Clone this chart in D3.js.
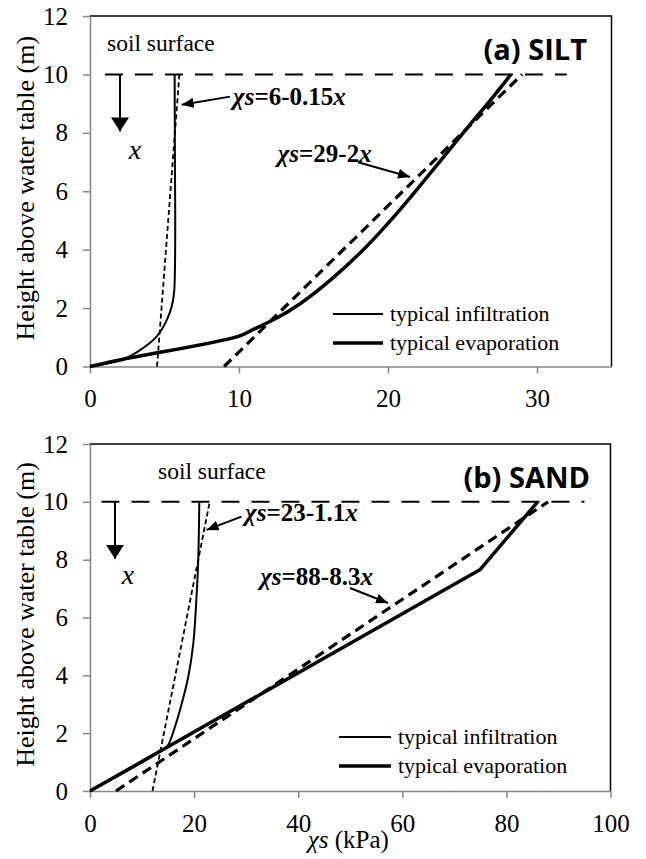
<!DOCTYPE html>
<html>
<head>
<meta charset="utf-8">
<script src="https://cdnjs.cloudflare.com/ajax/libs/d3/7.8.5/d3.min.js"></script>
<style>
  body { margin: 0; background: #fff; }
  svg text { font-family: "Liberation Serif", "Times New Roman", serif; fill: #000; }
  .tick text { font-size: 25px; }
  text.title { font-family: "Open Sans", sans-serif; font-weight: 700; font-size: 29px; }
</style>
</head>
<body>
<div id="chart"></div>
<script>
// ticks
const yTicks = [0, 2, 4, 6, 8, 10, 12];
const siltXTicks = [0, 10, 20, 30];
const sandXTicks = [0, 20, 40, 60, 80, 100];

// curves as [χs (kPa), height above water table (m)]
const siltInfiltration = [[0, 0], [2.24, 0.25], [3.36, 0.56], [4.47, 1.02], [5.15, 1.59], [5.48, 2.05],
  [5.64, 2.51], [5.7, 3.3], [5.72, 5], [5.7, 7], [5.68, 10]];
const siltEvaporation = [[0, 0], [2.24, 0.25], [10, 1.04], [11, 1.28], [12.5, 1.65], [14.1, 2.15],
  [16.23, 3.0], [18.54, 4.1], [20.52, 5.2], [22.25, 6.25], [23.93, 7.3], [25.53, 8.3], [26.85, 9.1], [28.25, 10]];
const siltInfiltrationFit = [[4.5, 0], [6, 10]];     // χs = 6 - 0.15x
const siltEvaporationFit = [[9, 0], [29, 10]];       // χs = 29 - 2x

const sandInfiltration = [[0, 0], [14.3, 1.46], [15.04, 1.6], [16.2, 2.15], [17.29, 2.8], [18.89, 3.96],
  [19.85, 5.11], [20.5, 6.84], [20.8, 8], [21, 10]];
const sandEvaporation = [[0, 0], [74.9, 7.65], [86, 10]];
const sandInfiltrationFit = [[12, 0], [23, 10]];     // χs = 23 - 1.1x
const sandEvaporationFit = [[5, 0], [88, 10]];       // χs = 88 - 8.3x

const surfaceHeight = 10;
const siltSurfaceSpan = [1, 32];
const sandSurfaceSpan = [2.2, 95];

const legendLabels = ["typical infiltration", "typical evaporation"];

const W = 646, H = 859;
const svg = d3.select("#chart").append("svg").attr("width", W).attr("height", H);

const defs = svg.append("defs");
defs.append("marker").attr("id", "head")
  .attr("viewBox", "0 0 12 10").attr("refX", 12).attr("refY", 5)
  .attr("markerWidth", 12).attr("markerHeight", 10)
  .attr("markerUnits", "userSpaceOnUse").attr("orient", "auto")
  .append("path").attr("d", "M0,0L12,5L0,10Z").attr("fill", "#000");
defs.append("marker").attr("id", "bighead")
  .attr("viewBox", "0 0 14 18").attr("refX", 14).attr("refY", 9)
  .attr("markerWidth", 14).attr("markerHeight", 18)
  .attr("markerUnits", "userSpaceOnUse").attr("orient", "auto")
  .append("path").attr("d", "M0,0L14,9L0,18Z").attr("fill", "#000");

const panels = [
  {
    left: 90, right: 611.5, top: 16, bottom: 366.5, xMax: 35, xTicks: siltXTicks,
    infil: siltInfiltration, evap: siltEvaporation,
    infilFit: siltInfiltrationFit, evapFit: siltEvaporationFit,
    surface: siltSurfaceSpan, title: "(a) SILT", titleX: 587, titleY: 60,
    soilX: 107, soilY: 51, downX: 120, downLen: 57, xLetter: [135, 159],
    notes: [
      { eq: "6-0.15", at: [9.6, 8.95], tail: [9.4, 9.24], tip: [6.15, 8.96] },
      { eq: "29-2", at: [12.6, 7.0], tail: [17.99, 6.99], tip: [21.48, 6.49] }
    ],
    legend: { x: 333, y: 314, len: 50 },
    xLabel: false
  },
  {
    left: 90, right: 610.5, top: 444, bottom: 791, xMax: 100, xTicks: sandXTicks,
    infil: sandInfiltration, evap: sandEvaporation,
    infilFit: sandInfiltrationFit, evapFit: sandEvaporationFit,
    surface: sandSurfaceSpan, title: "(b) SAND", titleX: 590, titleY: 488,
    soilX: 158, soilY: 479, downX: 115, downLen: 57, xLetter: [128, 584],
    notes: [
      { eq: "23-1.1", at: [29.8, 9.34], tail: [29.1, 9.49], tip: [22.4, 9.03] },
      { eq: "88-8.3", at: [32.7, 7.13], tail: [49.95, 7.02], tip: [57.25, 6.5] }
    ],
    legend: { x: 339, y: 737, len: 52 },
    xLabel: true
  }
];

panels.forEach(drawPanel);

function drawPanel(p) {
  const x = d3.scaleLinear().domain([0, p.xMax]).range([p.left, p.right]);
  const y = d3.scaleLinear().domain([0, 12]).range([p.bottom, p.top]);
  const g = svg.append("g");

  // frame top/right
  g.append("path")
    .attr("d", `M${p.left},${p.top}H${p.right}V${p.bottom}`)
    .attr("fill", "none").attr("stroke", "#000").attr("stroke-width", 1.5);

  const yAxis = d3.axisLeft(y).tickValues(yTicks).tickSize(7).tickPadding(15).tickSizeOuter(0);
  const xAxis = d3.axisBottom(x).tickValues(p.xTicks).tickSize(7).tickPadding(16).tickSizeOuter(0);

  const ya = g.append("g").attr("transform", `translate(${p.left},0)`).call(yAxis);
  const xa = g.append("g").attr("transform", `translate(0,${p.bottom})`).call(xAxis);
  [ya, xa].forEach(a => {
    a.attr("font-family", null).attr("font-size", null);
    a.select(".domain").attr("stroke", "#868686").attr("stroke-width", 1.5);
    a.selectAll(".tick line").attr("stroke", "#868686").attr("stroke-width", 1.5);
  });

  // y label
  g.append("text")
    .attr("transform", `translate(34,${(p.top + p.bottom) / 2 - 3}) rotate(-90)`)
    .attr("text-anchor", "middle")
    .style("font-size", "26px")
    .text("Height above water table (m)");

  // soil surface line
  g.append("line")
    .attr("x1", x(p.surface[0])).attr("x2", x(p.surface[1]))
    .attr("y1", y(surfaceHeight)).attr("y2", y(surfaceHeight))
    .attr("stroke", "#000").attr("stroke-width", 2).attr("stroke-dasharray", "18,12");

  g.append("text").attr("x", p.soilX).attr("y", p.soilY)
    .style("font-size", "23.5px").text("soil surface");

  // depth arrow + x
  g.append("line")
    .attr("x1", p.downX).attr("x2", p.downX)
    .attr("y1", y(surfaceHeight)).attr("y2", y(surfaceHeight) + p.downLen)
    .attr("stroke", "#000").attr("stroke-width", 2).attr("marker-end", "url(#bighead)");
  g.append("text").attr("x", p.xLetter[0]).attr("y", p.xLetter[1])
    .attr("text-anchor", "middle").style("font-size", "28px").style("font-style", "italic")
    .text("x");

  const line = d3.line().x(d => x(d[0])).y(d => y(d[1]));
  const smooth = d3.line().x(d => x(d[0])).y(d => y(d[1])).curve(d3.curveCatmullRom.alpha(0.5));

  // fitted dashed lines
  g.append("path").attr("d", line(p.infilFit)).attr("fill", "none")
    .attr("stroke", "#000").attr("stroke-width", 1.8).attr("stroke-dasharray", "5,3");
  g.append("path").attr("d", line(p.evapFit)).attr("fill", "none")
    .attr("stroke", "#000").attr("stroke-width", 3.2).attr("stroke-dasharray", "10,6");

  // profiles
  g.append("path").attr("d", smooth(p.infil)).attr("fill", "none")
    .attr("stroke", "#000").attr("stroke-width", 2);
  g.append("path").attr("d", (p.evap.length > 3 ? smooth : line)(p.evap)).attr("fill", "none")
    .attr("stroke", "#000").attr("stroke-width", 3.5).attr("stroke-linejoin", "round");

  // title
  g.append("text").attr("class", "title").attr("x", p.titleX).attr("y", p.titleY)
    .attr("text-anchor", "end")
    .text(p.title);

  // equation notes
  p.notes.forEach(n => {
    g.append("line")
      .attr("x1", x(n.tail[0])).attr("y1", y(n.tail[1]))
      .attr("x2", x(n.tip[0])).attr("y2", y(n.tip[1]))
      .attr("stroke", "#000").attr("stroke-width", 2).attr("marker-end", "url(#head)");
    const t = g.append("text").attr("x", x(n.at[0])).attr("y", y(n.at[1]))
      .style("font-size", "25px").style("font-weight", 700);
    t.append("tspan").style("font-style", "italic").text("χs");
    t.append("tspan").text("=" + n.eq);
    t.append("tspan").style("font-style", "italic").text("x");
  });

  // legend
  const L = p.legend;
  [2, 3.5].forEach((sw, i) => {
    const yy = L.y + i * 29;
    g.append("line").attr("x1", L.x).attr("x2", L.x + L.len)
      .attr("y1", yy).attr("y2", yy).attr("stroke", "#000").attr("stroke-width", sw);
    g.append("text").attr("x", L.x + L.len + 7).attr("y", yy + 7)
      .style("font-size", "22px").text(legendLabels[i]);
  });

  if (p.xLabel) {
    const t = g.append("text").attr("x", (p.left + p.right) / 2 - 2).attr("y", 848)
      .attr("text-anchor", "middle").style("font-size", "25px");
    t.append("tspan").style("font-style", "italic").text("χs");
    t.append("tspan").text(" (kPa)");
  }
}
</script>
</body>
</html>
